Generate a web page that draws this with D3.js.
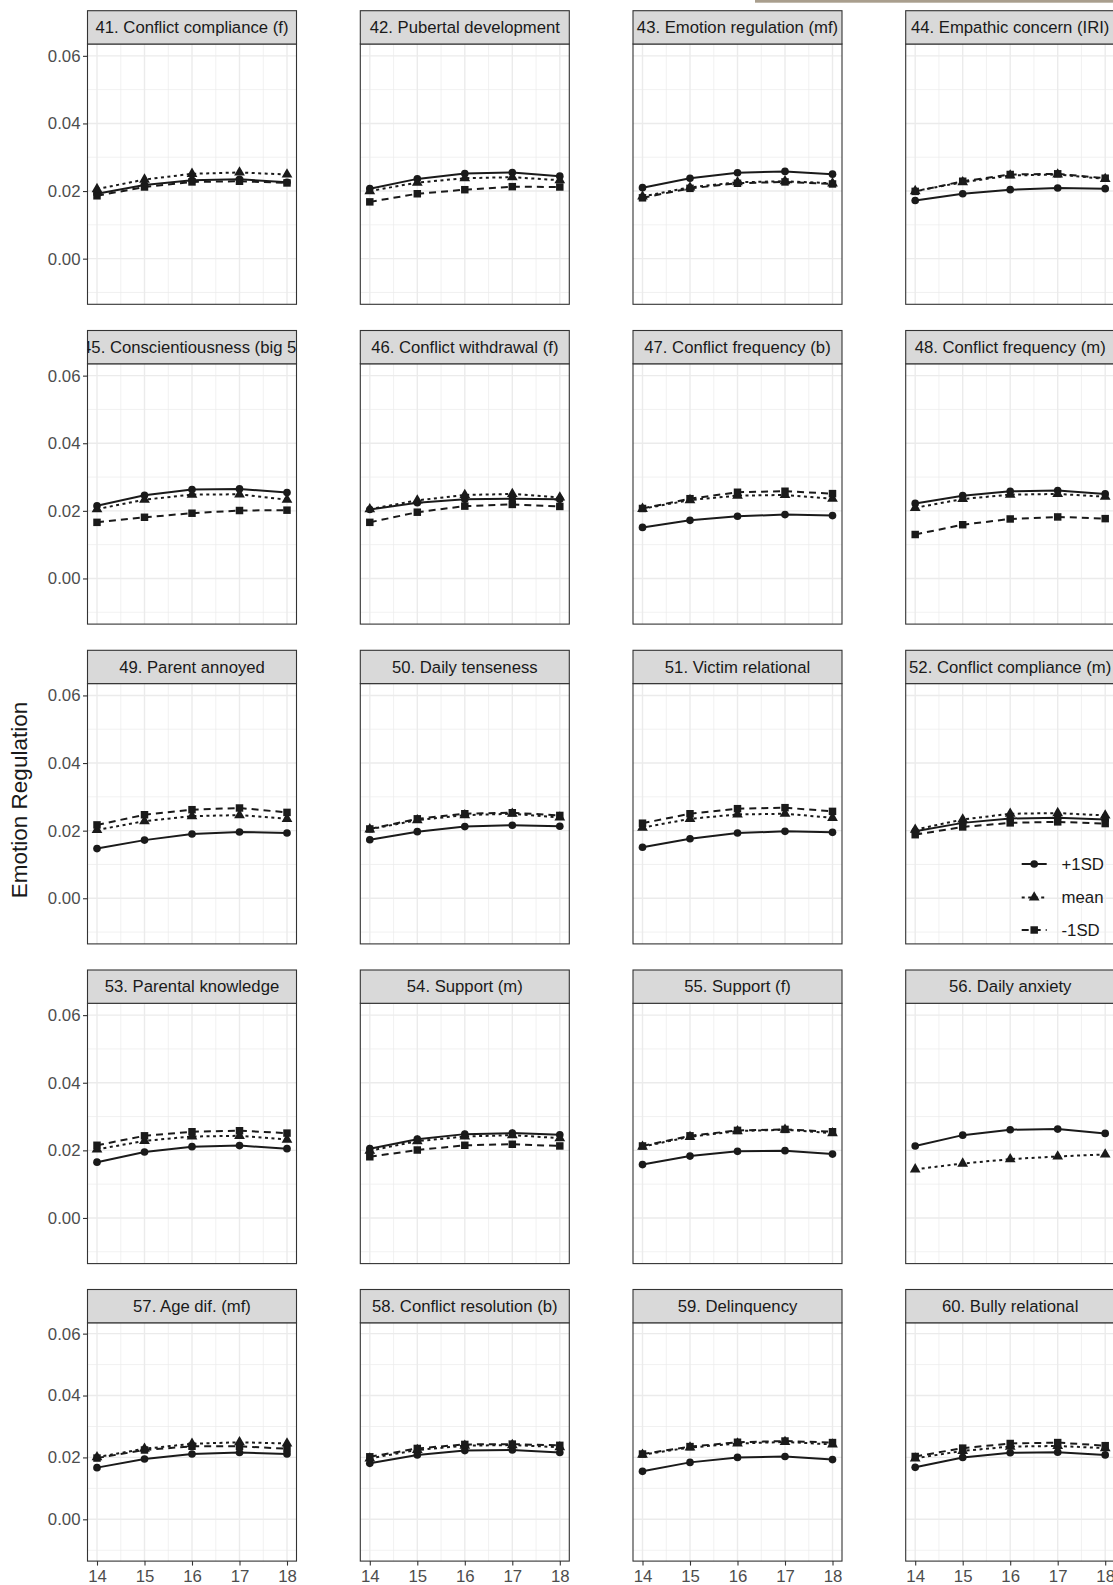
<!DOCTYPE html>
<html>
<head>
<meta charset="utf-8">
<script src="https://cdn.jsdelivr.net/npm/d3@7"></script>
<style>
  html, body { margin: 0; padding: 0; background: #ffffff; overflow: hidden; }
  svg { display: block; font-family: "Liberation Sans", Arial, Helvetica, sans-serif; }
</style>
</head>
<body>
<svg id="chart" width="1113" height="1585"></svg>
<script>
// Age on the x axis
const ages = [14, 15, 16, 17, 18];

// Facet titles, read left-to-right, top-to-bottom
const panelTitles = [
  "41. Conflict compliance (f)", "42. Pubertal development", "43. Emotion regulation (mf)", "44. Empathic concern (IRI)",
  "45. Conscientiousness (big 5)", "46. Conflict withdrawal (f)", "47. Conflict frequency (b)", "48. Conflict frequency (m)",
  "49. Parent annoyed", "50. Daily tenseness", "51. Victim relational", "52. Conflict compliance (m)",
  "53. Parental knowledge", "54. Support (m)", "55. Support (f)", "56. Daily anxiety",
  "57. Age dif. (mf)", "58. Conflict resolution (b)", "59. Delinquency", "60. Bully relational"
];

// Predicted emotion regulation at +1SD of the moderator
const plusSD = [
  [0.0192, 0.0218, 0.0232, 0.0235, 0.0226],
  [0.0207, 0.0236, 0.0252, 0.0255, 0.0244],
  [0.0210, 0.0238, 0.0254, 0.0258, 0.0250],
  [0.0172, 0.0192, 0.0204, 0.0209, 0.0207],
  [0.0215, 0.0246, 0.0263, 0.0265, 0.0254],
  [0.0204, 0.0224, 0.0234, 0.0236, 0.0234],
  [0.0151, 0.0172, 0.0184, 0.0189, 0.0186],
  [0.0222, 0.0245, 0.0258, 0.0260, 0.0250],
  [0.0147, 0.0172, 0.0190, 0.0196, 0.0193],
  [0.0173, 0.0197, 0.0212, 0.0216, 0.0213],
  [0.0151, 0.0176, 0.0193, 0.0198, 0.0195],
  [0.0198, 0.0223, 0.0236, 0.0238, 0.0233],
  [0.0165, 0.0195, 0.0211, 0.0214, 0.0205],
  [0.0205, 0.0233, 0.0248, 0.0251, 0.0246],
  [0.0158, 0.0183, 0.0197, 0.0199, 0.0189],
  [0.0213, 0.0245, 0.0261, 0.0263, 0.0250],
  [0.0167, 0.0195, 0.0211, 0.0216, 0.0211],
  [0.0181, 0.0208, 0.0222, 0.0224, 0.0216],
  [0.0155, 0.0184, 0.0200, 0.0203, 0.0193],
  [0.0168, 0.0200, 0.0215, 0.0217, 0.0208]
];

// Predicted emotion regulation at the moderator mean
const meanVals = [
  [0.0206, 0.0234, 0.0251, 0.0255, 0.0249],
  [0.0200, 0.0225, 0.0238, 0.0241, 0.0232],
  [0.0184, 0.0211, 0.0226, 0.0229, 0.0223],
  [0.0200, 0.0226, 0.0246, 0.0249, 0.0236],
  [0.0205, 0.0233, 0.0248, 0.0249, 0.0233],
  [0.0205, 0.0231, 0.0247, 0.0250, 0.0240],
  [0.0206, 0.0232, 0.0245, 0.0247, 0.0236],
  [0.0209, 0.0235, 0.0248, 0.0250, 0.0242],
  [0.0202, 0.0228, 0.0243, 0.0246, 0.0235],
  [0.0204, 0.0231, 0.0246, 0.0250, 0.0239],
  [0.0209, 0.0235, 0.0248, 0.0250, 0.0238],
  [0.0203, 0.0233, 0.0250, 0.0252, 0.0245],
  [0.0203, 0.0228, 0.0241, 0.0243, 0.0232],
  [0.0199, 0.0227, 0.0241, 0.0245, 0.0236],
  [0.0211, 0.0240, 0.0257, 0.0261, 0.0251],
  [0.0144, 0.0161, 0.0174, 0.0182, 0.0188],
  [0.0201, 0.0228, 0.0244, 0.0249, 0.0245],
  [0.0197, 0.0224, 0.0238, 0.0240, 0.0233],
  [0.0209, 0.0232, 0.0245, 0.0250, 0.0242],
  [0.0197, 0.0221, 0.0235, 0.0237, 0.0230]
];

// Predicted emotion regulation at -1SD of the moderator (none for daily anxiety)
const minusSD = [
  [0.0186, 0.0212, 0.0227, 0.0229, 0.0224],
  [0.0168, 0.0192, 0.0204, 0.0213, 0.0212],
  [0.0180, 0.0208, 0.0223, 0.0227, 0.0221],
  [0.0199, 0.0229, 0.0249, 0.0251, 0.0238],
  [0.0166, 0.0181, 0.0193, 0.0201, 0.0202],
  [0.0166, 0.0196, 0.0214, 0.0219, 0.0213],
  [0.0207, 0.0236, 0.0255, 0.0258, 0.0251],
  [0.0130, 0.0159, 0.0176, 0.0182, 0.0177],
  [0.0217, 0.0247, 0.0262, 0.0267, 0.0254],
  [0.0205, 0.0235, 0.0250, 0.0253, 0.0245],
  [0.0222, 0.0250, 0.0265, 0.0268, 0.0257],
  [0.0188, 0.0211, 0.0223, 0.0226, 0.0221],
  [0.0215, 0.0243, 0.0255, 0.0258, 0.0251],
  [0.0181, 0.0201, 0.0215, 0.0218, 0.0213],
  [0.0213, 0.0243, 0.0259, 0.0262, 0.0255],
  null,
  [0.0198, 0.0224, 0.0236, 0.0236, 0.0228],
  [0.0202, 0.0229, 0.0242, 0.0243, 0.0239],
  [0.0211, 0.0235, 0.0249, 0.0253, 0.0248],
  [0.0203, 0.0230, 0.0245, 0.0248, 0.0238]
];

// Axis ticks
const yTicks = [0.00, 0.02, 0.04, 0.06];
const yMinorTicks = [-0.01, 0.01, 0.03, 0.05];
const xMinorTicks = [14.5, 15.5, 16.5, 17.5];
const seriesLabels = ["+1SD", "mean", "-1SD"];
const yTitle = "Emotion Regulation";

// ---- layout ----
const W = 1113, H = 1585;
const colX = [87.5, 360.3, 633.0, 905.7];
const panelW = 209;
const rowTop = [10.7, 330.5, 650.3, 970.0, 1289.5];
const stripH = 33.3;
const plotH = [260.3, 260.3, 260.3, 260.3, 238.3];
const nCols = 4;

const ink = "#1a1a1a";
const lineW = 2;
const seriesStyle = [
  { dash: null, shape: d3.symbolCircle, size: 46 },
  { dash: "3,3.5", shape: d3.symbolTriangle, size: 50 },
  { dash: "7,5", shape: d3.symbolSquare, size: 56 }
];

const svg = d3.select("#chart");
const defs = svg.append("defs");

// thin taupe rule along the top edge
svg.append("rect")
  .attr("x", 755).attr("y", 0).attr("width", W - 755).attr("height", 2.7)
  .attr("fill", "#a99e8d");

const line = d3.line();

panelTitles.forEach((title, i) => {
  const r = Math.floor(i / nCols), c = i % nCols;
  const x0 = colX[c], top = rowTop[r], y0 = top + stripH, h = plotH[r];

  const x = d3.scaleLinear().domain([13.8, 18.2]).range([x0, x0 + panelW]);
  const y = d3.scaleLinear().domain([-0.0135, 0.0635]).range([y0 + h, y0]);

  const g = svg.append("g");

  // panel background
  g.append("rect").attr("x", x0).attr("y", y0).attr("width", panelW).attr("height", h)
    .attr("fill", "#ffffff");

  // grid: minor then major
  const grid = g.append("g").attr("stroke", "#ebebeb").attr("fill", "none");
  yMinorTicks.forEach(v => grid.append("line")
    .attr("x1", x0).attr("x2", x0 + panelW).attr("y1", y(v)).attr("y2", y(v)).attr("stroke-width", 0.7));
  xMinorTicks.forEach(v => grid.append("line")
    .attr("x1", x(v)).attr("x2", x(v)).attr("y1", y0).attr("y2", y0 + h).attr("stroke-width", 0.7));
  yTicks.forEach(v => grid.append("line")
    .attr("x1", x0).attr("x2", x0 + panelW).attr("y1", y(v)).attr("y2", y(v)).attr("stroke-width", 1.4));
  ages.forEach(v => grid.append("line")
    .attr("x1", x(v)).attr("x2", x(v)).attr("y1", y0).attr("y2", y0 + h).attr("stroke-width", 1.4));

  // series
  const series = [plusSD[i], meanVals[i], minusSD[i]];
  series.forEach((vals, k) => {
    if (!vals) return;
    const pts = ages.map((a, j) => [x(a), y(vals[j])]);
    g.append("path").attr("d", line(pts))
      .attr("fill", "none").attr("stroke", ink).attr("stroke-width", lineW)
      .attr("stroke-dasharray", seriesStyle[k].dash);
  });
  series.forEach((vals, k) => {
    if (!vals) return;
    const sym = d3.symbol().type(seriesStyle[k].shape).size(seriesStyle[k].size);
    g.selectAll(null).data(vals).enter().append("path")
      .attr("d", sym)
      .attr("transform", (v, j) => `translate(${x(ages[j])},${y(v)})`)
      .attr("fill", ink);
  });

  // panel border
  g.append("rect").attr("x", x0).attr("y", y0).attr("width", panelW).attr("height", h)
    .attr("fill", "none").attr("stroke", "#333333").attr("stroke-width", 1.1);

  // strip
  const clipId = "strip-clip-" + i;
  defs.append("clipPath").attr("id", clipId).append("rect")
    .attr("x", x0).attr("y", top).attr("width", panelW).attr("height", stripH);
  g.append("rect").attr("x", x0).attr("y", top).attr("width", panelW).attr("height", stripH)
    .attr("fill", "#d9d9d9").attr("stroke", "#333333").attr("stroke-width", 1.1);
  g.append("text").attr("clip-path", `url(#${clipId})`)
    .attr("x", x0 + panelW / 2).attr("y", top + stripH / 2)
    .attr("dy", "0.35em").attr("text-anchor", "middle")
    .attr("font-size", 16.7).attr("fill", ink)
    .text(title);

  // y axis on the first column
  if (c === 0) {
    const ax = g.append("g").attr("transform", `translate(${x0},0)`)
      .call(d3.axisLeft(y).tickValues(yTicks).tickFormat(d3.format(".2f")).tickSize(4.5).tickPadding(2.5));
    ax.select(".domain").remove();
    ax.selectAll(".tick line").attr("stroke", "#333333").attr("stroke-width", 1.1);
    ax.selectAll(".tick text").attr("fill", "#4d4d4d").attr("font-size", 16.8)
      .attr("font-family", "Liberation Sans, Arial, sans-serif");
  }

  // x axis on the bottom row
  if (r === rowTop.length - 1) {
    const ax = g.append("g").attr("transform", `translate(0,${y0 + h})`)
      .call(d3.axisBottom(x).tickValues(ages).tickFormat(d3.format("d")).tickSize(4.5).tickPadding(4));
    ax.select(".domain").remove();
    ax.selectAll(".tick line").attr("stroke", "#333333").attr("stroke-width", 1.1);
    ax.selectAll(".tick text").attr("fill", "#4d4d4d").attr("font-size", 16.8)
      .attr("font-family", "Liberation Sans, Arial, sans-serif");
  }

  // legend inside the "Conflict compliance (m)" panel
  if (i === 11) {
    const lg = g.append("g");
    const keyX0 = 1021.7, keyX1 = 1046.7, textX = 1061.5;
    const keyY = [864, 897.5, 930];
    seriesLabels.forEach((lab, k) => {
      lg.append("line").attr("x1", keyX0).attr("x2", keyX1).attr("y1", keyY[k]).attr("y2", keyY[k])
        .attr("stroke", ink).attr("stroke-width", lineW).attr("stroke-dasharray", seriesStyle[k].dash);
      lg.append("path").attr("d", d3.symbol().type(seriesStyle[k].shape).size(seriesStyle[k].size))
        .attr("transform", `translate(${(keyX0 + keyX1) / 2},${keyY[k]})`).attr("fill", ink);
      lg.append("text").attr("x", textX).attr("y", keyY[k]).attr("dy", "0.35em")
        .attr("font-size", 16.8).attr("fill", ink).text(lab);
    });
  }
});

// shared y-axis title
svg.append("text")
  .attr("transform", `translate(27,800) rotate(-90)`)
  .attr("text-anchor", "middle")
  .attr("font-size", 22.5).attr("fill", ink)
  .text(yTitle);
</script>
</body>
</html>
